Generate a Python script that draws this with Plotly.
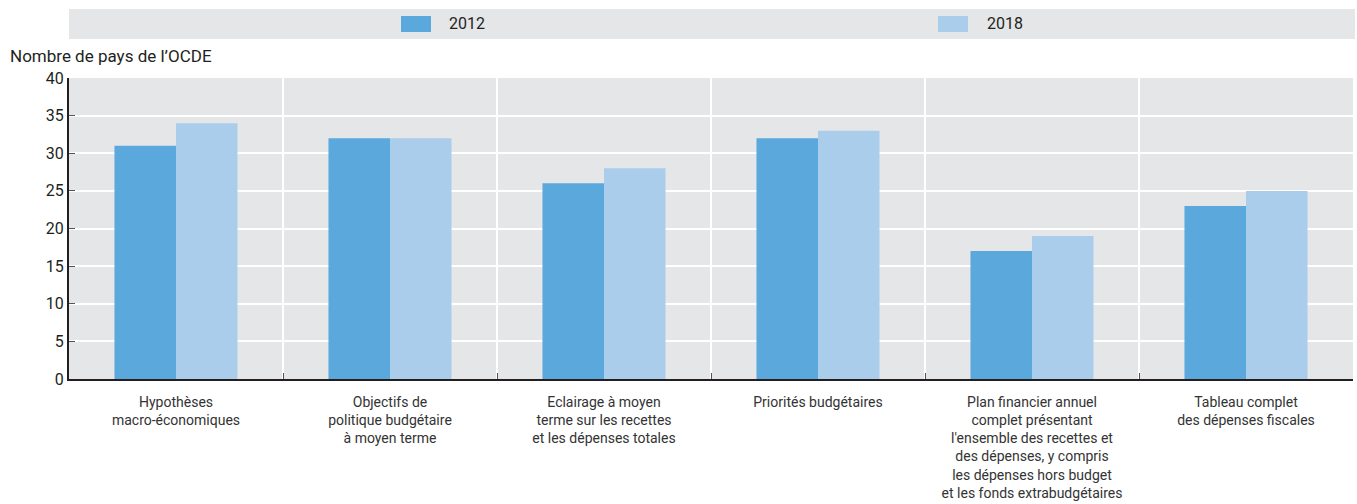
import plotly.graph_objects as go

categories = [
    "Hypothèses<br>macro-économiques",
    "Objectifs de<br>politique budgétaire<br>à moyen terme",
    "Eclairage à moyen<br>terme sur les recettes<br>et les dépenses totales",
    "Priorités budgétaires",
    "Plan financier annuel<br>complet présentant<br>l'ensemble des recettes et<br>des dépenses, y compris<br>les dépenses hors budget<br>et les fonds extrabudgétaires",
    "Tableau complet<br>des dépenses fiscales",
]
series_names = ["2012", "2018"]
values_2012 = [31, 32, 26, 32, 17, 23]
values_2018 = [34, 32, 28, 33, 19, 25]
y_ticks = [0, 5, 10, 15, 20, 25, 30, 35, 40]

colors = ["#5BA8DC", "#ABCDEC"]
FONT = "Liberation Sans Narrow, Arial Narrow, Roboto, sans-serif"
W, H = 1357, 504
ML, MR, MT, MB = 69, 4, 78, 125
PW, PH = W - ML - MR, H - MT - MB


def px_x(p):
    return (p - ML) / PW


def px_y(p):
    return (H - MB - p) / PH


fig = go.Figure()
for name, vals, col in zip(series_names, [values_2012, values_2018], colors):
    fig.add_trace(go.Bar(x=categories, y=vals, name=name, marker_color=col,
                         marker_line_width=0, showlegend=False))

shapes = [
    dict(type="rect", xref="paper", yref="paper", x0=0, x1=px_x(1355),
         y0=px_y(39), y1=px_y(9), fillcolor="#E5E6E8", line_width=0, layer="below"),
]
annotations = [
    dict(text="Nombre de pays de l\u2019OCDE", xref="paper", yref="paper",
         x=px_x(8), y=px_y(56), xanchor="left", yanchor="middle", showarrow=False,
         font=dict(size=17, color="#231F20", family=FONT)),
]
for name, col, sx, tx in zip(series_names, colors, [401, 938], [447, 985]):
    shapes.append(dict(type="rect", xref="paper", yref="paper", x0=px_x(sx), x1=px_x(sx + 30),
                       y0=px_y(32), y1=px_y(16), fillcolor=col, line_width=0))
    annotations.append(dict(text=name, xref="paper", yref="paper", x=px_x(tx), y=px_y(24),
                            xanchor="left", yanchor="middle", showarrow=False,
                            font=dict(size=16, color="#231F20", family=FONT)))

fig.update_layout(
    width=W, height=H,
    margin=dict(l=ML, r=MR, t=MT, b=MB),
    paper_bgcolor="white", plot_bgcolor="#E5E6E8",
    barmode="group", bargap=0.425, bargroupgap=0,
    font=dict(family=FONT, color="#231F20"),
    shapes=shapes, annotations=annotations,
    xaxis=dict(tickson="boundaries", ticks="inside", ticklen=6, tickcolor="#555555",
               showgrid=True, gridcolor="white", gridwidth=2,
               showline=True, linecolor="#231F20", linewidth=2,
               ticklabelstandoff=9,
               tickfont=dict(size=14, color="#333333", family=FONT), tickangle=0),
    yaxis=dict(range=[0, 40], tickvals=y_ticks, ticks="inside", ticklen=6, tickcolor="#555555",
               showgrid=True, gridcolor="white", gridwidth=2, zeroline=False,
               showline=True, linecolor="#231F20", linewidth=2,
               tickfont=dict(size=16, color="#231F20", family=FONT)),
)

fig.write_html("out.html")
